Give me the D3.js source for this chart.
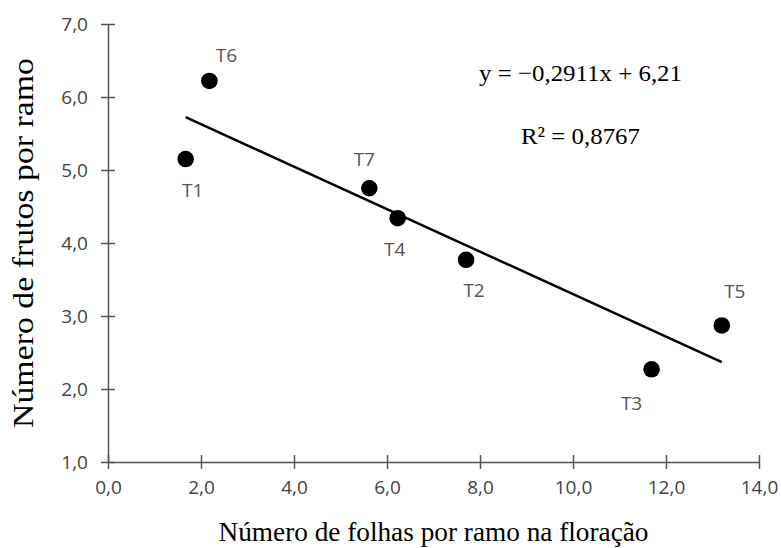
<!DOCTYPE html>
<html>
<head>
<meta charset="utf-8">
<script src="https://cdn.jsdelivr.net/npm/d3@7/dist/d3.min.js"></script>
<style>
  html, body { margin: 0; padding: 0; background: #fff; }
  svg { display: block; }
  .serif { font-family: "Liberation Serif", "DejaVu Serif", serif; }
  .sans { font-family: "Open Sans", "Liberation Sans", sans-serif; }
</style>
</head>
<body>
<div id="chart"></div>
<script>
// Tratamentos e médias observadas
const treatments = ["T1", "T2", "T3", "T4", "T5", "T6", "T7"];
const leavesPerBranch = [1.67, 7.70, 11.69, 6.23, 13.20, 2.18, 5.62];
const fruitsPerBranch = [5.15, 3.77, 2.27, 4.34, 2.87, 6.22, 4.75];

// Ajuste linear
const slope = -0.2911;
const intercept = 6.21;
const rSquared = 0.8767;

// Eixos
const xTicks = [0, 2, 4, 6, 8, 10, 12, 14];
const yTicks = [1, 2, 3, 4, 5, 6, 7];
const xTitle = "Número de folhas por ramo na floração";
const yTitle = "Número de frutos por ramo";

// Deslocamento dos rótulos em relação aos pontos (px)
const labelOffset = {
  T1: [7, 38], T2: [8, 37], T3: [-20, 41], T4: [-3, 38],
  T5: [13, -27], T6: [17, -19], T7: [-5, -22]
};

const width = 781, height = 548;
const margin = { top: 24, right: 22, bottom: 86, left: 108 };

const svg = d3.select("#chart").append("svg")
  .attr("width", width).attr("height", height);

const x = d3.scaleLinear().domain([0, 14]).range([margin.left, width - margin.right]);
const y = d3.scaleLinear().domain([1, 7]).range([height - margin.bottom, margin.top]);

const fmt = v => d3.format(".1f")(v).replace(".", ",");
const axisColor = "#555";
const sansFont = "Open Sans, Liberation Sans, sans-serif";
const serifFont = "Liberation Serif, DejaVu Serif, serif";

// Eixo X (marcas cruzando a linha)
const gx = svg.append("g")
  .attr("transform", `translate(0,${y(1)})`)
  .call(d3.axisBottom(x).tickValues(xTicks).tickFormat(fmt).tickSize(7).tickSizeOuter(0))
  .attr("font-family", sansFont).attr("font-size", 19);
gx.selectAll(".tick line").attr("y1", -7);
gx.select(".domain").attr("stroke", axisColor).attr("stroke-width", 1.5);
gx.selectAll(".tick line").attr("stroke", axisColor).attr("stroke-width", 1.5);
gx.selectAll(".tick text")
  .attr("class", "sans")
  .attr("y", 32).attr("dy", 0)
  .attr("fill", "#444");

// Eixo Y
const gy = svg.append("g")
  .attr("transform", `translate(${x(0)},0)`)
  .call(d3.axisLeft(y).tickValues(yTicks).tickFormat(fmt).tickSize(7).tickSizeOuter(0))
  .attr("font-family", sansFont).attr("font-size", 19);
gy.selectAll(".tick line").attr("x1", 7);
gy.select(".domain").attr("stroke", axisColor).attr("stroke-width", 1.5);
gy.selectAll(".tick line").attr("stroke", axisColor).attr("stroke-width", 1.5);
gy.selectAll(".tick text")
  .attr("class", "sans")
  .attr("x", -20).attr("dy", "0.35em")
  .attr("fill", "#444");

// Linha de tendência
const xMin = d3.min(leavesPerBranch), xMax = d3.max(leavesPerBranch);
svg.append("line")
  .attr("x1", x(xMin)).attr("y1", y(slope * xMin + intercept))
  .attr("x2", x(xMax)).attr("y2", y(slope * xMax + intercept))
  .attr("stroke", "#000").attr("stroke-width", 2.5);

// Pontos
const data = treatments.map((t, i) => ({ t, xv: leavesPerBranch[i], yv: fruitsPerBranch[i] }));
svg.append("g").selectAll("circle").data(data).join("circle")
  .attr("cx", d => x(d.xv)).attr("cy", d => y(d.yv)).attr("r", 8.3)
  .attr("fill", "#000");

// Rótulos dos tratamentos
svg.append("g").attr("font-family", sansFont).attr("font-size", 19)
  .selectAll("text").data(data).join("text")
  .attr("class", "sans")
  .attr("x", d => x(d.xv) + labelOffset[d.t][0])
  .attr("y", d => y(d.yv) + labelOffset[d.t][1])
  .attr("text-anchor", "middle")
  .attr("fill", "#555")
  .text(d => d.t);

// Equação e R²
const eq = `y = \u2212${String(Math.abs(slope)).replace(".", ",")}x + ${String(intercept).replace(".", ",")}`;
svg.append("text")
  .attr("class", "serif")
  .attr("font-family", serifFont).attr("font-size", 24)
  .attr("x", 479).attr("y", 81)
  .attr("textLength", 203).attr("lengthAdjust", "spacingAndGlyphs")
  .attr("fill", "#000")
  .text(eq);
svg.append("text")
  .attr("class", "serif")
  .attr("font-family", serifFont).attr("font-size", 24)
  .attr("x", 521).attr("y", 144)
  .attr("textLength", 119).attr("lengthAdjust", "spacingAndGlyphs")
  .attr("fill", "#000")
  .text(`R\u00b2 = ${String(rSquared).replace(".", ",")}`);

// Títulos dos eixos
svg.append("text")
  .attr("class", "serif")
  .attr("font-family", serifFont).attr("font-size", 28)
  .attr("x", (x(0) + x(14)) / 2).attr("y", 541)
  .attr("text-anchor", "middle")
  .attr("textLength", 430).attr("lengthAdjust", "spacingAndGlyphs")
  .attr("fill", "#000")
  .text(xTitle);
svg.append("text")
  .attr("class", "serif")
  .attr("font-family", serifFont).attr("font-size", 29)
  .attr("transform", `translate(33,${(y(1) + y(7)) / 2}) rotate(-90)`)
  .attr("text-anchor", "middle")
  .attr("textLength", 370).attr("lengthAdjust", "spacingAndGlyphs")
  .attr("fill", "#000")
  .text(yTitle);
</script>
</body>
</html>
